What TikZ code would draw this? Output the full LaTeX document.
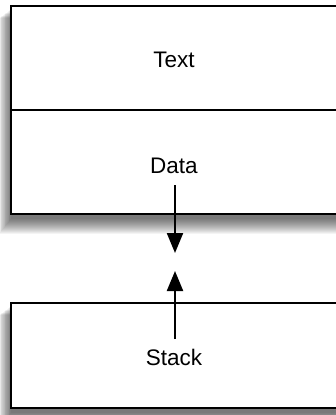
\documentclass[tikz,border=0pt]{standalone}
\usepackage{fontspec}
\setmainfont{Liberation Sans}
\usetikzlibrary{arrows.meta}
\tikzset{
  box/.style={draw=black,line width=2.5pt,fill=white},
  shade/.style={fill=black,fill opacity=0.042,draw=none},
  lbl/.style={font=\fontsize{22.5}{26}\selectfont,inner sep=0pt,anchor=base},
  arr/.style={line width=2.2pt,-{Triangle[length=20pt,width=16pt]}}
}
\newcommand{\softshadow}[4]{%
  \foreach \r in {0,...,15}{%
    \path[shade] (#1-0.8*\r,#2+3+0.6*\r) rectangle (#3+\r,#4+5+\r);}}
\begin{document}
\begin{tikzpicture}[x=1pt,y=-1pt]
\useasboundingbox (0,0) rectangle (336,415);
\clip (0,0) rectangle (336,415);
\fill[white] (0,0) rectangle (336,415);
\softshadow{11}{6}{350}{214}
\softshadow{11}{303}{350}{408}
\path[box] (11,6) rectangle (350,214);
\draw[line width=2pt] (11,110) -- (350,110);
\path[box] (11,303) rectangle (350,408);
\node[lbl] (t) at (174,67) {Text};
\node[lbl] (d) at (174,173) {Data};
\node[lbl] (s) at (174,365) {Stack};
\coordinate (a1) at (175,185);
\coordinate (a2) at (175,253);
\coordinate (b1) at (175,339);
\coordinate (b2) at (175,271);
\draw[arr] (a1) -- (a2);
\draw[arr] (b1) -- (b2);
\end{tikzpicture}
\end{document}
